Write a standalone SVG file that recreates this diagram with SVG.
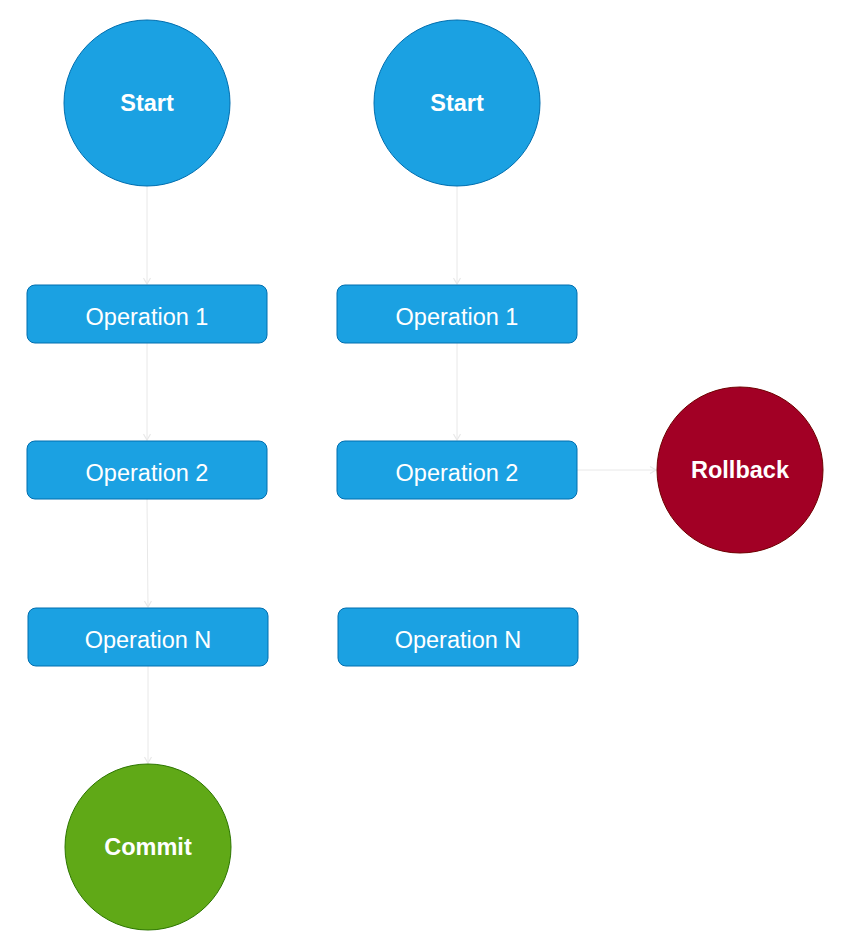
<svg xmlns="http://www.w3.org/2000/svg" width="850" height="950" viewBox="0 0 850 950">
<defs>
<style>
.blue{fill:#1ba1e2;stroke:#006eaf;stroke-width:1}
.red{fill:#a20025;stroke:#6f0000;stroke-width:1}
.green{fill:#60a917;stroke:#2d7600;stroke-width:1}
.b{font-family:"Liberation Sans",Arial,sans-serif;font-size:23.5px;font-weight:bold;fill:#fff;text-anchor:middle;dominant-baseline:central}
.t{font-family:"Liberation Sans",Arial,sans-serif;font-size:23.5px;fill:#fff;text-anchor:middle;dominant-baseline:central}
.c{fill:none;stroke:#e8e8e8;stroke-width:1}
</style>
<marker id="arr" markerWidth="10" markerHeight="10" refX="7" refY="5" orient="auto" markerUnits="userSpaceOnUse">
<path d="M1,1.5 L7,5 L1,8.5" fill="none" stroke="#e8e8e8" stroke-width="1.2"/>
</marker>
</defs>
<g id="connectors">
<path class="c" d="M147,186 L147,284" marker-end="url(#arr)"/>
<path class="c" d="M147,343 L147,440" marker-end="url(#arr)"/>
<path class="c" d="M147,499 L148,607" marker-end="url(#arr)"/>
<path class="c" d="M148,666 L148,763" marker-end="url(#arr)"/>
<path class="c" d="M457,186 L457,284" marker-end="url(#arr)"/>
<path class="c" d="M457,343 L457,440" marker-end="url(#arr)"/>
<path class="c" d="M577,470 L656,470" marker-end="url(#arr)"/>
</g>
<g id="start1"><circle class="blue" cx="147" cy="103" r="83"/><text class="b" x="147" y="103">Start</text></g>
<g id="start2"><circle class="blue" cx="457" cy="103" r="83"/><text class="b" x="457" y="103">Start</text></g>
<g id="op1a"><rect class="blue" x="27" y="285" width="240" height="58" rx="8"/><text class="t" x="147" y="317">Operation 1</text></g>
<g id="op1b"><rect class="blue" x="337" y="285" width="240" height="58" rx="8"/><text class="t" x="457" y="317">Operation 1</text></g>
<g id="op2a"><rect class="blue" x="27" y="441" width="240" height="58" rx="8"/><text class="t" x="147" y="473">Operation 2</text></g>
<g id="op2b"><rect class="blue" x="337" y="441" width="240" height="58" rx="8"/><text class="t" x="457" y="473">Operation 2</text></g>
<g id="opNa"><rect class="blue" x="28" y="608" width="240" height="58" rx="8"/><text class="t" x="148" y="640">Operation N</text></g>
<g id="opNb"><rect class="blue" x="338" y="608" width="240" height="58" rx="8"/><text class="t" x="458" y="640">Operation N</text></g>
<g id="rollback"><circle class="red" cx="740" cy="470" r="83"/><text class="b" x="740" y="470">Rollback</text></g>
<g id="commit"><circle class="green" cx="148" cy="847" r="83"/><text class="b" x="148" y="847">Commit</text></g>
</svg>
